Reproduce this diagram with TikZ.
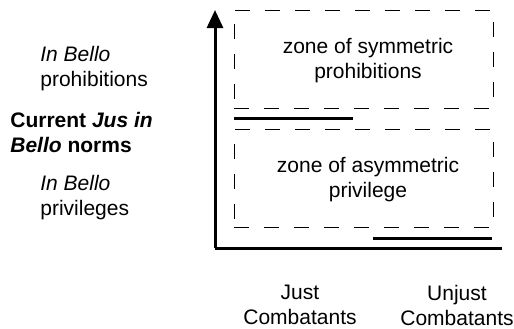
\documentclass[tikz,border=0pt]{standalone}
\usepackage{fontspec}
\setmainfont{Liberation Sans}
\usetikzlibrary{arrows.meta,positioning}

\begin{document}
\begin{tikzpicture}[x=0.5pt,y=-0.5pt,
	txt/.style={font=\fontsize{10.5}{12.5}\selectfont, align=center, inner sep=0pt},
	zone/.style={draw, dash pattern=on 7.5pt off 7.5pt, line width=0.5pt,
		minimum width=129.5pt, minimum height=49pt, inner sep=0pt},
	bar/.style={line width=1.5pt},
	axis/.style={line width=1.5pt}
]
\useasboundingbox (0,0) rectangle (514,328);

% axes
\coordinate (origin) at (215,248);
\coordinate (ytop) at (215,10);
\coordinate (xend) at (502,248);
\draw[axis,-{Triangle[length=9pt,width=8pt]}] (origin) -- (ytop);
\draw[axis] (origin) -- (xend);

% zones
\node[zone,txt] (sym) at (363.5,59) {};
\node[txt] (symtxt) at (368,61) {zone of symmetric\\prohibitions};
\node[zone,txt] (asym) at (363.5,178.5) {};
\node[txt] (asymtxt) at (368,180) {zone of asymmetric\\privilege};

% current norms
\coordinate (jbar1) at (234,118);
\coordinate (jbar2) at (353,118);
\coordinate (ubar1) at (373,238);
\coordinate (ubar2) at (492,238);
\draw[bar] (jbar1) -- (jbar2);
\draw[bar] (ubar1) -- (ubar2);

% left labels
\node[txt,align=left,anchor=west] (proh) at (40,69) {\textit{In Bello}\\prohibitions};
\node[txt,align=left,anchor=west] (norms) at (10,132) {\textbf{Current \textit{Jus in}}\\\textbf{\textit{Bello} norms}};
\node[txt,align=left,anchor=west] (priv) at (40,198) {\textit{In Bello}\\privileges};

% bottom labels
\node[txt] (just) at (300,305) {Just\\Combatants};
\node[txt] (unjust) at (457,305) {Unjust\\Combatants};
\end{tikzpicture}
\end{document}
